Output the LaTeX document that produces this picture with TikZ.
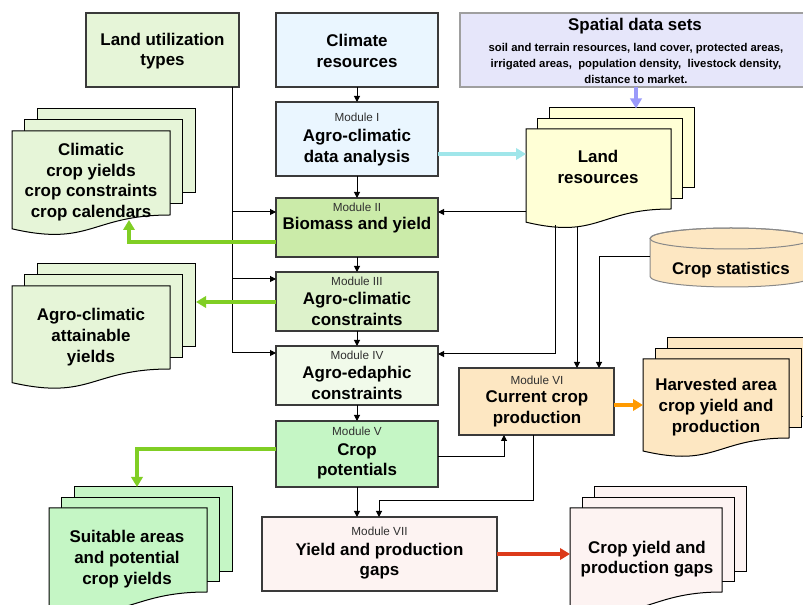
\documentclass[tikz,border=0pt]{standalone}
\usepackage{fontspec}
\setmainfont{Liberation Sans}
\usetikzlibrary{arrows.meta,calc}
\definecolor{lutfill}{HTML}{E6F5D8}
\definecolor{bluefill}{HTML}{EAF6FF}
\definecolor{mtwofill}{HTML}{CBEBA9}
\definecolor{mthreefill}{HTML}{DDF2CB}
\definecolor{mfourfill}{HTML}{F1FAEA}
\definecolor{mfivefill}{HTML}{C5F6C5}
\definecolor{peach}{HTML}{FDE7C2}
\definecolor{pinkfill}{HTML}{FDF3F2}
\definecolor{yellowfill}{HTML}{FFFFD6}
\definecolor{lavfill}{HTML}{E6E6FA}
\definecolor{greenarr}{HTML}{80CE24}
\definecolor{cyanarr}{HTML}{A0E6EA}
\definecolor{lavarr}{HTML}{9A9AFA}
\definecolor{orangearr}{HTML}{FF9A00}
\definecolor{redarr}{HTML}{DC3A1A}
\definecolor{edgecol}{HTML}{3A3A3A}
\definecolor{labgray}{HTML}{303030}
\newcommand\modlab[1]{{\mdseries\fontsize{8.8}{10}\selectfont\color{labgray}#1}}
\newcommand\multidoc[8]{%
 \pgfmathsetmacro\mdXa{#2+2*#6}\pgfmathsetmacro\mdYa{#3-2*#7}%
 \pgfmathsetmacro\mdXb{#2+#6}\pgfmathsetmacro\mdYb{#3-#7}%
 \pgfmathsetmacro\mdR{#2+#4}\pgfmathsetmacro\mdM{#2+#4/2}%
 \pgfmathsetmacro\mdE{#3+#5}\pgfmathsetmacro\mdL{#3+1.1645*#5}\pgfmathsetmacro\mdC{#3+1.381*#5}%
 \filldraw[docline, fill=#8] (\mdXa,\mdYa) rectangle ++(#4,#5);
 \filldraw[docline, fill=#8] (\mdXb,\mdYb) rectangle ++(#4,#5);
 \filldraw[docline, fill=#8] (#2,#3) -- (\mdR,#3) -- (\mdR,\mdE) .. controls (\mdM,\mdE) and (\mdM,\mdC) .. (#2,\mdL) -- cycle;
 \node[inner sep=0, outer sep=0, minimum width=#4*0.75pt, minimum height=#5*0.75pt, anchor=north west] (#1) at (#2,#3) {};
}
\begin{document}
\begin{tikzpicture}[x=0.75pt,y=-0.75pt,
  box/.style={draw=edgecol, line width=0.8pt, inner sep=0, outer sep=0},
  docline/.style={draw=black, line width=0.75pt},
  big/.style={font=\bfseries\fontsize{12.7}{15.5}\selectfont, align=center, inner sep=0},
  small/.style={font=\bfseries\fontsize{8.5}{11.7}\selectfont, align=center, inner sep=0},
  conn/.style={draw=black, line width=0.75pt},
  arr/.style={conn, -{Triangle[length=4.5pt,width=4.5pt]}},
  fatarr/.style={line width=2.4pt, -{Triangle[length=7.5pt,width=8.5pt]}}]
\useasboundingbox (0,0) rectangle (803,605);
\fill[white] (0,0) rectangle (803,605);
\clip (0,0) rectangle (803,605);

% top boxes
\node[box, fill=lutfill, minimum width=114.75pt, minimum height=55.5pt] (lut) at (162.5,50) {};
\node[big] (lutt) at (162.5,51) {Land utilization\\types};
\node[box, fill=bluefill, minimum width=121.5pt, minimum height=55.5pt] (clim) at (357,50) {};
\node[big] (climt) at (357,51) {Climate\\resources};
\node[box, draw=gray!75, fill=lavfill, minimum width=264pt, minimum height=55.5pt] (spatial) at (636,50) {};
\node[big] (spatialt) at (635,26) {Spatial data sets};
\node[small] (spatials) at (636,63.5) {soil and terrain resources, land cover, protected areas,\\irrigated areas,\ \ population density,\ \ livestock density,\\distance to market.};

% modules
\node[box, fill=bluefill, minimum width=121.5pt, minimum height=55.5pt] (m1) at (357,139) {};
\node[big] (m1t) at (357,139.5) {\modlab{Module I}\\[-0.8pt]Agro-climatic\\data analysis};
\node[box, fill=mtwofill, minimum width=121.5pt, minimum height=44.25pt] (m2) at (357,227.5) {};
\node[big] (m2t) at (357,218) {\modlab{Module II}\\[-1.5pt]Biomass and yield};
\node[box, fill=mthreefill, minimum width=121.5pt, minimum height=44.25pt] (m3) at (357,301.5) {};
\node[big] (m3t) at (357,301.5) {\modlab{Module III}\\[-1.5pt]Agro-climatic\\constraints};
\node[box, fill=mfourfill, minimum width=121.5pt, minimum height=44.25pt] (m4) at (357,375.5) {};
\node[big] (m4t) at (357,375.5) {\modlab{Module IV}\\[-1.5pt]Agro-edaphic\\constraints};
\node[box, fill=mfivefill, minimum width=121.5pt, minimum height=49.5pt] (m5) at (357,454) {};
\node[big] (m5t) at (357,453.5) {\modlab{Module V}\\[-1pt]Crop\\potentials};
\node[box, fill=peach, minimum width=116.25pt, minimum height=50.25pt] (m6) at (536.5,401.5) {};
\node[big] (m6t) at (537,401.5) {\modlab{Module VI}\\[-1.5pt]Current crop\\production};
\node[box, fill=pinkfill, minimum width=176.25pt, minimum height=55.5pt] (m7) at (379.5,554) {};
\node[big] (m7t) at (379.5,553.5) {\modlab{Module VII}\\[-1pt]Yield and production\\gaps};

% documents
\multidoc{climdoc}{12}{131}{158}{84}{12.5}{11}{lutfill}
\node[big] (climdoct) at (91,182) {Climatic\\crop yields\\crop constraints\\crop calendars};
\multidoc{landres}{526}{129}{145}{80}{11.5}{10.5}{yellowfill}
\node[big] (landrest) at (598,167) {Land\\resources};
\multidoc{agrodoc}{12}{286}{158}{83}{12.5}{11}{lutfill}
\node[big] (agrodoct) at (91,337) {Agro-climatic\\attainable\\yields};
\multidoc{suitdoc}{49}{508}{158}{84}{12.5}{10.5}{mfivefill}
\node[big] (suitdoct) at (127,559) {Suitable areas\\and potential\\crop yields};
\multidoc{harvdoc}{643}{359}{146}{79}{12}{10.5}{peach}
\node[big] (harvdoct) at (716,407) {Harvested area\\crop yield and\\production};
\multidoc{gapdoc}{570}{508}{152}{84}{12}{10.5}{pinkfill}
\node[big] (gapdoct) at (647,559) {Crop yield and\\production gaps};

% crop statistics cylinder
\filldraw[fill=peach, draw=edgecol!60, line width=0.75pt] (650,238.5) -- (650,276.5)
  arc[start angle=180, end angle=0, x radius=81, y radius=10.5] -- (812,238.5)
  arc[start angle=0, end angle=-180, x radius=81, y radius=10.5] -- cycle;
\draw[draw=edgecol!60, line width=0.75pt] (731,238.5) ellipse [x radius=81, y radius=10.5];
\node[inner sep=0, minimum width=121.5pt, minimum height=44pt] (cstat) at (731,257) {};
\node[big] (cstatt) at (731,270) {Crop statistics};

% black connectors
\draw[arr] (clim) -- (m1);
\draw[arr] (m1) -- (m2);
\draw[arr] (m2) -- (m3);
\draw[arr] (m3) -- (m4);
\draw[arr] (m4) -- (m5);
\draw[arr] (m5.south) -- (m5.south |- m7.north);

\coordinate (yA) at (232,212);
\coordinate (yB) at (232,279);
\coordinate (yC) at (232,353);
\draw[conn] (lut.south -| yA) -- (yC);
\draw[arr] (yC) -- (m4.west |- yC);
\draw[arr] (yA) -- (m2.west |- yA);
\draw[arr] (yB) -- (m3.west |- yB);

\coordinate (lrA) at (526,212);
\draw[arr] (lrA) -- (m2.east |- lrA);
\coordinate (lrB) at (555,225);
\coordinate (lrBm) at (555,354);
\draw[arr] (lrB) -- (lrBm) -- (m4.east |- lrBm);
\coordinate (lrC) at (577,227);
\draw[arr] (lrC) -- (m6.north -| lrC);
\coordinate (csB) at (599,257);
\draw[arr] (cstat.west) -- (csB) -- (m6.north -| csB);
\coordinate (vV) at (504,457);
\draw[arr] (m5.east |- vV) -- (vV) -- (m6.south -| vV);
\coordinate (vVI) at (533,501);
\coordinate (vVII) at (379,501);
\draw[arr] (m6.south -| vVI) -- (vVI) -- (vVII) -- (m7.north -| vVII);

% coloured arrows
\coordinate (gA) at (129,242);
\coordinate (gAe) at (129,220);
\draw[fatarr, greenarr] (m2.west |- gA) -- (gA) -- (gAe);
\coordinate (gB) at (196,302);
\draw[fatarr, greenarr] (m3.west |- gB) -- (gB);
\coordinate (gC) at (137,449);
\coordinate (gCe) at (137,487);
\draw[fatarr, greenarr] (m5.west |- gC) -- (gC) -- (gCe);
\coordinate (cA) at (526,154);
\draw[fatarr, cyanarr] (m1.east |- cA) -- (landres.west |- cA);
\coordinate (lA) at (636,108.5);
\draw[fatarr, lavarr] (spatial.south -| lA) -- (lA);
\coordinate (oA) at (643,405);
\draw[fatarr, orangearr] (m6.east |- oA) -- (harvdoc.west |- oA);
\coordinate (rA) at (570,554);
\draw[fatarr, redarr] (m7.east |- rA) -- (gapdoc.west |- rA);
\end{tikzpicture}
\end{document}
